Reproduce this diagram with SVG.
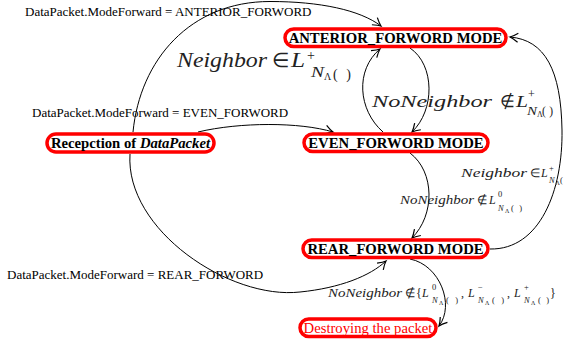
<svg xmlns="http://www.w3.org/2000/svg" width="564" height="347" viewBox="0 0 564 347">
<style>
.node rect{fill:#fff;stroke:#f00;stroke-width:3.5}
.nt{font-family:"Liberation Serif",serif;font-weight:bold;font-size:14.7px;text-anchor:middle;fill:#000}
.edges path{fill:none;stroke:#000;stroke-width:1;marker-end:url(#arr)}
.lbl{font-family:"Liberation Serif",serif;font-size:13px;fill:#000}
.m text{font-family:"Liberation Serif",serif;fill:#222}
.m .i{font-style:italic}
</style>
<defs>
<marker id="arr" markerWidth="12" markerHeight="12" viewBox="-9 -6 12 12" refX="0" refY="0" orient="auto" markerUnits="userSpaceOnUse">
<path d="M-8,-4.5 Q-3,-1 0,0 Q-3,1 -8,4.5" fill="none" stroke="#000" stroke-width="1.2"/>
</marker>
</defs>
<rect width="564" height="347" fill="#fff"/>

<!-- connectors -->
<g id="edges" class="edges">
<path d="M133,132 C140,60 190,1.5 270,1.5 C320,1.5 360,10 381,26"/>
<path d="M198,132 C240,122 300,122 333,132"/>
<path d="M130,154 C125,230 230,300 300,292 C340,288 370,276 386,261"/>
<path d="M410,48 C435,65 435,110 412,132"/>
<path d="M383,132 C358,110 355,70 380,49"/>
<path d="M410,153 C435,172 435,215 412,238"/>
<path d="M490,249 C540,250 563,190 562,130 C561,70 545,40 510,37"/>
<path d="M410,259 C440,265 455,305 439,326"/>
</g>

<!-- nodes -->
<g id="anterior" class="node">
<rect x="285" y="29" width="221" height="17.5" rx="8.75"/>
<text class="nt" x="395.5" y="42.5">ANTERIOR_FORWORD MODE</text>
</g>
<g id="even" class="node">
<rect x="304" y="134" width="184" height="17.5" rx="8.75"/>
<text class="nt" x="396" y="147.5">EVEN_FORWORD MODE</text>
</g>
<g id="reception" class="node">
<rect x="47" y="134" width="167" height="18" rx="9"/>
<text class="nt" x="130.5" y="148">Recepction of <tspan font-style="italic">DataPacket</tspan></text>
</g>
<g id="rear" class="node">
<rect x="303" y="240" width="185" height="17.5" rx="8.75"/>
<text class="nt" x="395.5" y="253.5">REAR_FORWORD MODE</text>
</g>
<g id="destroy" class="node">
<rect x="300" y="319" width="136" height="17.5" rx="8.75"/>
<text class="nt" x="368" y="332.5" style="font-weight:normal;fill:#f00">Destroying the packet</text>
</g>

<!-- edge labels -->
<g id="labels">
<text class="lbl" x="25" y="16">DataPacket.ModeForward = ANTERIOR_FORWORD</text>
<text class="lbl" x="32" y="117">DataPacket.ModeForward = EVEN_FORWORD</text>
<text class="lbl" x="7" y="279">DataPacket.ModeForward = REAR_FORWORD</text>

<g class="m" font-size="20">
<text class="i" x="177" y="67" textLength="90" lengthAdjust="spacingAndGlyphs">Neighbor</text>
<text x="272" y="67">∈</text>
<text class="i" x="291" y="67" textLength="14" lengthAdjust="spacingAndGlyphs">L</text>
<text x="307" y="60" font-size="14">+</text>
<text class="i" x="311" y="77" font-size="14" textLength="13" lengthAdjust="spacingAndGlyphs">N</text>
<text x="324" y="80" font-size="10">Λ</text>
<text x="333" y="79" font-size="14" textLength="18" lengthAdjust="spacing">()</text>
</g>

<g class="m" font-size="17">
<text class="i" x="372" y="107" textLength="120" lengthAdjust="spacingAndGlyphs">NoNeighbor</text>
<text x="500" y="107">∉</text>
<text class="i" x="516" y="107" textLength="12" lengthAdjust="spacingAndGlyphs">L</text>
<text x="528" y="98" font-size="12">+</text>
<text class="i" x="527" y="115" font-size="11.5" textLength="10" lengthAdjust="spacingAndGlyphs">N</text>
<text x="537" y="117" font-size="8">Λ</text>
<text x="542" y="115" font-size="11.5" textLength="11" lengthAdjust="spacing">()</text>
</g>

<g class="m" font-size="12">
<text class="i" x="461" y="177" textLength="66" lengthAdjust="spacingAndGlyphs">Neighbor</text>
<text x="530" y="177">∈</text>
<text class="i" x="541" y="177">L</text>
<text x="549" y="171" font-size="8.5">+</text>
<text class="i" x="549" y="183" font-size="8.5">N</text>
<text x="555.5" y="184.5" font-size="6">Λ</text>
<text x="560" y="183" font-size="8.5">(</text>
</g>

<g class="m" font-size="12">
<text class="i" x="400" y="204" textLength="74" lengthAdjust="spacingAndGlyphs">NoNeighbor</text>
<text x="477" y="204">∉</text>
<text class="i" x="489" y="204">L</text>
<text x="498" y="197" font-size="8.5">0</text>
<text class="i" x="498" y="211" font-size="8.5">N</text>
<text x="505" y="212.5" font-size="6">Λ</text>
<text x="511" y="211" font-size="8.5" textLength="11" lengthAdjust="spacing">()</text>
</g>

<g class="m" font-size="12">
<text class="i" x="328" y="297" textLength="74" lengthAdjust="spacingAndGlyphs">NoNeighbor</text>
<text x="405" y="297">∉</text>
<text x="416" y="297">{</text>
<text class="i" x="422" y="297">L</text>
<text x="432" y="290" font-size="8.5">0</text>
<text class="i" x="432" y="303" font-size="8.5">N</text>
<text x="439" y="304.5" font-size="6">Λ</text>
<text x="446" y="303" font-size="8.5" textLength="12" lengthAdjust="spacing">()</text>
<text x="461" y="297">,</text>
<text class="i" x="468" y="297">L</text>
<text x="478" y="290" font-size="8.5">−</text>
<text class="i" x="478" y="303" font-size="8.5">N</text>
<text x="485" y="304.5" font-size="6">Λ</text>
<text x="492" y="303" font-size="8.5" textLength="12" lengthAdjust="spacing">()</text>
<text x="507" y="297">,</text>
<text class="i" x="514" y="297">L</text>
<text x="524" y="290" font-size="8.5">+</text>
<text class="i" x="524" y="303" font-size="8.5">N</text>
<text x="531" y="304.5" font-size="6">Λ</text>
<text x="538" y="303" font-size="8.5" textLength="11" lengthAdjust="spacing">()</text>
<text x="550" y="297">}</text>
</g>
</g>
</svg>
